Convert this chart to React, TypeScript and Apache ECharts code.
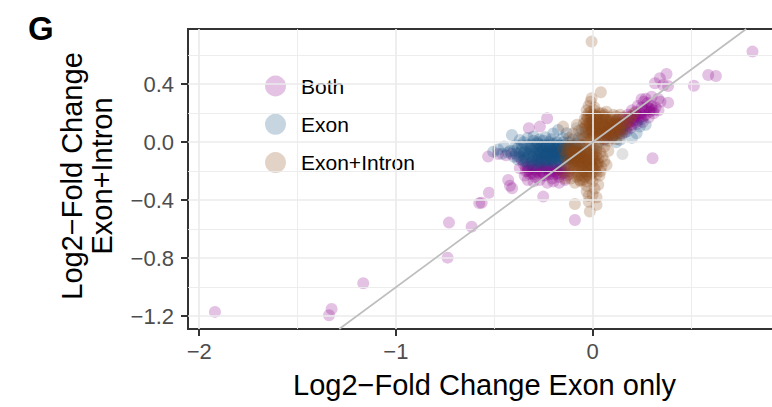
import React, { useEffect, useRef } from 'react';
import * as echarts from 'echarts';

// ---- axis ticks / labels ----
const xTicks = [-2, -1, 0];
const yTicks = [-1.2, -0.8, -0.4, 0, 0.4];
const xMinorGrid = [-1.5, -0.5, 0.5];
const yMinorGrid = [-1.0, -0.6, -0.2, 0.2, 0.6];
const XMIN = -2.057;
const XMAX = 0.958;
const YMIN = -1.288;
const YMAX = 0.781;

const legendNames = ['Both', 'Exon', 'Exon+Intron'];

// ---- data: [log2FC exon only, log2FC exon+intron] ----
const bothPoints: number[][] = [
  [-0.35,-0.15],[-0.34,-0.2],[-0.33,-0.17],[-0.32,-0.22],[-0.31,-0.14],[-0.3,-0.19],[-0.29,-0.24],[-0.28,-0.16],
  [-0.27,-0.21],[-0.26,-0.13],[-0.25,-0.18],[-0.24,-0.23],[-0.23,-0.15],[-0.22,-0.2],[-0.21,-0.17],[-0.2,-0.22],
  [-0.19,-0.14],[-0.18,-0.19],[-0.17,-0.24],[-0.16,-0.16],[-0.15,-0.21],[-0.14,-0.18],[-0.13,-0.23],[-0.12,-0.2],
  [-0.345,-0.23],[-0.325,-0.19],[-0.305,-0.16],[-0.285,-0.2],[-0.265,-0.17],[-0.245,-0.14],[-0.225,-0.18],
  [-0.205,-0.25],[-0.185,-0.22],[-0.165,-0.19],[-0.36,-0.12],[-0.37,-0.18],[-0.33,-0.26],[-0.3,-0.27],
  [-0.27,-0.26],[-0.23,-0.28],[-0.2,-0.27],[-0.17,-0.28],[-0.14,-0.26],[-0.25,-0.23],[-0.28,-0.12],[-0.21,-0.12],
  [-0.31,-0.21],[-0.24,-0.19],[-0.19,-0.18],[-0.16,-0.22],
  [-0.34,-0.17],[-0.32,-0.15],[-0.3,-0.22],[-0.28,-0.18],[-0.26,-0.2],[-0.24,-0.16],[-0.22,-0.22],[-0.2,-0.17],
  [-0.18,-0.21],[-0.16,-0.18],[-0.14,-0.21],[-0.27,-0.15],[-0.23,-0.18],[-0.19,-0.2],[-0.29,-0.19],[-0.33,-0.2],
  [-0.21,-0.2],[-0.25,-0.21],[-0.17,-0.16],[-0.31,-0.17],
  [-0.429,-0.26],[-0.409,-0.317],[-0.42,-0.3],[-0.251,-0.375],[-0.527,-0.348],[-0.564,-0.417],[-0.576,-0.42],
  [-0.615,-0.582],[-0.73,-0.554],[-0.737,-0.796],[-1.166,-0.972],[-1.327,-1.15],[-1.34,-1.193],[-1.92,-1.17],
  [-0.09,-0.536],[-0.531,-0.099],[-0.48,-0.081],[-0.412,-0.08],[-0.324,0.097],[-0.268,0.108],[-0.231,0.165],
  [-0.38,-0.1],[-0.44,-0.09],
  [0.06,0.02],[0.08,0.05],[0.1,0.04],[0.12,0.08],[0.14,0.06],[0.15,0.11],[0.17,0.09],[0.18,0.14],[0.2,0.12],
  [0.21,0.17],[0.23,0.15],[0.24,0.2],[0.26,0.18],[0.27,0.22],[0.29,0.21],[0.3,0.25],[0.32,0.24],[0.13,0.12],
  [0.16,0.15],[0.19,0.18],[0.22,0.21],[0.25,0.24],[0.28,0.27],[0.11,0.1],[0.09,0.08],[0.07,0.06],[0.165,0.07],
  [0.195,0.1],[0.225,0.125],[0.255,0.14],[0.285,0.17],[0.31,0.2],[0.335,0.22],[0.2,0.22],[0.23,0.25],[0.26,0.28],
  [0.18,0.19],[0.15,0.17],[0.12,0.15],[0.345,0.28],[0.3,0.314],[0.334,0.299],[0.249,0.297],[0.376,0.471],
  [0.342,0.441],[0.317,0.407],[0.359,0.395],[0.384,0.388],[0.384,0.273],[0.305,-0.11],[0.515,0.39],[0.588,0.464],
  [0.627,0.457],[0.813,0.625],[0.27,0.3],[0.22,0.19],[0.25,0.16],[0.18,0.11],[0.14,0.09],[0.1,0.06],
  [0.13,0.07],[0.15,0.09],[0.17,0.12],[0.19,0.14],[0.21,0.15],[0.23,0.18],[0.25,0.2],[0.27,0.19],[0.29,0.23],
  [0.31,0.22],[0.16,0.11],[0.2,0.16],[0.24,0.17],[0.28,0.24],[0.22,0.14],[0.26,0.22],[0.18,0.16],[0.3,0.23],
  [0.12,0.1],[0.14,0.13],
];

const exonPoints: number[][] = [
  [-0.31,-0.06],[-0.29,-0.03],[-0.28,-0.09],[-0.27,-0.05],[-0.26,-0.11],[-0.25,-0.02],[-0.24,-0.07],[-0.23,-0.12],
  [-0.22,-0.04],[-0.21,-0.08],[-0.2,-0.01],[-0.19,-0.1],[-0.18,-0.05],[-0.17,-0.08],[-0.16,-0.03],[-0.15,-0.11],
  [-0.14,-0.06],[-0.13,-0.09],[-0.12,-0.04],[-0.3,-0.1],[-0.28,-0.01],[-0.26,-0.08],[-0.245,-0.13],[-0.235,-0.03],
  [-0.225,-0.095],[-0.21,-0.135],[-0.205,-0.055],[-0.195,-0.02],[-0.185,-0.075],[-0.175,-0.115],[-0.165,-0.045],
  [-0.155,-0.085],[-0.145,-0.02],[-0.135,-0.07],[-0.125,-0.11],[-0.115,-0.055],[-0.105,-0.03],[-0.095,-0.07],
  [-0.32,-0.03],[-0.33,-0.08],[-0.34,-0.05],[-0.35,-0.1],[-0.36,-0.02],[-0.37,-0.07],[-0.305,-0.125],[-0.285,-0.145],
  [-0.265,-0.02],[-0.255,-0.055],[-0.24,-0.1],[-0.22,-0.015],[-0.2,-0.115],[-0.19,-0.04],[-0.18,-0.15],[-0.17,-0.02],
  [-0.16,-0.13],[-0.15,-0.06],[-0.14,-0.1],[-0.13,-0.035],[-0.12,-0.08],[-0.11,-0.12],[-0.27,-0.07],[-0.23,-0.06],
  [-0.21,-0.1],[-0.19,-0.075],[-0.25,-0.09],[-0.29,-0.075],[-0.31,-0.015],[-0.2,-0.04],[-0.16,-0.07],[-0.24,-0.04],
  [-0.36,-0.05],[-0.35,-0.08],[-0.34,-0.11],[-0.33,-0.02],[-0.32,-0.07],[-0.31,-0.1],[-0.3,-0.04],[-0.29,-0.12],
  [-0.28,-0.05],[-0.27,-0.1],[-0.26,-0.03],[-0.25,-0.06],[-0.24,-0.12],[-0.23,-0.08],[-0.22,-0.06],[-0.21,-0.03],
  [-0.2,-0.09],[-0.19,-0.12],[-0.18,-0.03],[-0.17,-0.1],[-0.16,-0.05],[-0.15,-0.08],[-0.14,-0.04],[-0.13,-0.12],
  [-0.12,-0.06],[-0.11,-0.09],[-0.1,-0.05],[-0.09,-0.03],[-0.08,-0.06],[-0.07,-0.08],
  [-0.345,-0.065],[-0.325,-0.095],[-0.315,-0.045],[-0.295,-0.085],[-0.275,-0.115],[-0.265,-0.065],[-0.255,-0.035],
  [-0.235,-0.085],[-0.215,-0.115],[-0.205,-0.075],[-0.195,-0.055],[-0.185,-0.095],[-0.175,-0.065],[-0.165,-0.025],
  [-0.155,-0.105],[-0.145,-0.075],[-0.135,-0.045],[-0.125,-0.085],[-0.115,-0.025],[-0.105,-0.1],
  [-0.38,-0.04],[-0.4,-0.06],[-0.43,-0.07],[-0.46,-0.08],[-0.39,-0.08],[-0.37,-0.1],[-0.35,-0.13],[-0.33,-0.15],
  [-0.28,-0.13],[-0.26,-0.14],[-0.22,-0.13],[-0.19,-0.14],[-0.28,0.0],[-0.25,0.01],[-0.21,0.02],[-0.18,0.0],
  [-0.15,0.0],[-0.3,0.01],[-0.35,0.0],[-0.23,-0.025],
  [-0.48,-0.05],[-0.505,-0.065],[-0.45,-0.03],[-0.42,-0.06],[-0.41,0.05],[-0.37,0.016],[-0.39,-0.02],[-0.4,-0.1],
  [-0.38,-0.12],[-0.33,0.03],[-0.3,0.04],[-0.27,0.02],[-0.24,0.035],[-0.2,0.06],[-0.175,0.085],[-0.132,0.062],
  [-0.15,0.03],[-0.1,0.02],[-0.08,-0.01],[-0.07,0.03],[-0.06,-0.04],[-0.05,-0.02],[-0.09,-0.13],[-0.14,-0.16],
  [-0.24,-0.17],[-0.3,-0.16],[-0.34,-0.13],[-0.22,0.0],[-0.12,0.0],[0.105,0.039],[0.139,0.016],[0.173,0.073],
  [0.224,0.062],[0.24,0.108],[0.2,0.03],[0.15,0.06],[0.12,0.0],[0.27,0.12],[0.06,0.01],[0.08,0.04],
];

const exonIntronPoints: number[][] = [
  [-0.05,0.05],[-0.04,0.1],[-0.03,0.15],[-0.02,0.2],[-0.01,0.03],[0.0,0.08],[0.01,0.13],[0.02,0.18],[0.03,0.05],
  [0.04,0.1],[0.05,0.15],[0.06,0.02],[0.07,0.07],[0.08,0.12],[0.09,0.17],[0.1,0.04],[0.11,0.09],[0.12,0.14],
  [0.13,0.06],[0.14,0.11],[0.15,0.08],[0.16,0.13],[-0.045,0.13],[-0.035,0.07],[-0.025,0.02],[-0.015,0.12],
  [-0.005,0.17],[0.005,0.05],[0.015,0.1],[0.025,0.15],[0.035,0.2],[0.045,0.07],[0.055,0.12],[0.065,0.17],
  [0.075,0.04],[0.085,0.09],[0.095,0.14],[0.105,0.19],[0.115,0.06],[0.125,0.11],[0.135,0.16],[0.145,0.05],
  [-0.06,0.02],[-0.055,0.09],[-0.02,0.06],[0.0,0.11],[0.02,0.16],[0.04,0.03],[0.06,0.08],[0.08,0.14],[0.1,0.1],
  [0.12,0.18],[-0.03,0.18],[-0.01,0.21],[0.01,0.22],[0.05,0.2],[0.07,0.21],[0.03,0.12],[-0.04,0.04],[0.02,0.07],
  [0.06,0.11],[0.09,0.06],[0.11,0.13],[0.04,0.16],[-0.01,0.14],[0.0,0.01],[0.17,0.1],[0.18,0.14],[0.19,0.16],
  [0.2,0.18],[0.21,0.2],[0.16,0.17],[0.14,0.19],[-0.02,0.25],[-0.01,0.28],[-0.005,0.303],[0.042,0.345],
  [-0.005,0.694],[0.01,0.24],[-0.03,0.22],[-0.07,0.08],[-0.08,0.12],[-0.1,0.06],[-0.15,0.108],[-0.12,0.03],
  [0.03,0.0],[0.08,0.01],[0.12,0.02],
  [-0.045,0.03],[-0.035,0.11],[-0.025,0.17],[-0.015,0.05],[-0.005,0.09],[0.005,0.15],[0.015,0.19],[0.025,0.04],
  [0.035,0.08],[0.045,0.13],[0.055,0.18],[0.065,0.05],[0.075,0.1],[0.085,0.15],[0.095,0.03],[0.105,0.08],
  [0.115,0.12],[0.125,0.16],[0.135,0.09],[0.145,0.13],
  [-0.04,0.16],[-0.03,0.09],[-0.02,0.13],[-0.01,0.07],[0.0,0.14],[0.01,0.04],[0.02,0.11],[0.03,0.17],[0.04,0.07],
  [0.05,0.1],[0.06,0.16],[0.07,0.13],[0.08,0.06],[0.09,0.11],[0.1,0.15],[0.11,0.05],[0.12,0.1],[0.13,0.13],
  [0.0,0.19],[0.06,0.19],[-0.02,0.09],[0.02,0.13],[0.04,0.05],[0.08,0.09],[0.1,0.12],[-0.01,0.17],[0.03,0.09],
  [0.07,0.15],[0.05,0.06],[0.01,0.08],
  [-0.12,-0.03],[-0.1,-0.06],[-0.08,-0.09],[-0.06,-0.12],[-0.04,-0.15],[-0.02,-0.18],[0.0,-0.21],[0.02,-0.04],
  [0.04,-0.07],[-0.11,-0.1],[-0.09,-0.13],[-0.07,-0.16],[-0.05,-0.19],[-0.03,-0.22],[-0.01,-0.25],[0.01,-0.08],
  [0.03,-0.11],[-0.13,-0.07],[-0.115,-0.14],[-0.095,-0.17],[-0.075,-0.2],[-0.055,-0.23],[-0.035,-0.05],
  [-0.015,-0.08],[0.005,-0.11],[0.025,-0.14],[0.045,-0.17],[-0.14,-0.1],[-0.12,-0.18],[-0.1,-0.21],[-0.08,-0.24],
  [-0.06,-0.27],[-0.04,-0.03],[-0.02,-0.1],[0.0,-0.13],[0.02,-0.16],[0.04,-0.2],[-0.105,-0.02],[-0.085,-0.05],
  [-0.065,-0.08],[-0.045,-0.11],[-0.025,-0.14],[-0.005,-0.17],[0.015,-0.2],[0.035,-0.23],[-0.15,-0.05],
  [-0.13,-0.15],[-0.11,-0.25],[-0.09,-0.28],[-0.07,-0.05],[-0.05,-0.07],[-0.03,-0.12],[-0.01,-0.15],[0.01,-0.18],
  [0.03,-0.02],[0.05,-0.1],[0.06,-0.13],[-0.06,-0.02],[-0.08,-0.14],[-0.06,-0.17],[-0.04,-0.2],[-0.02,-0.23],
  [0.0,-0.27],[-0.1,-0.11],[-0.09,-0.02],[-0.07,-0.11],[-0.05,-0.14],[-0.03,-0.17],[0.0,-0.06],[0.02,-0.09],
  [-0.02,-0.02],[-0.04,-0.08],
  [-0.11,-0.05],[-0.1,-0.08],[-0.09,-0.11],[-0.08,-0.04],[-0.07,-0.13],[-0.06,-0.07],[-0.05,-0.1],[-0.04,-0.13],
  [-0.03,-0.07],[-0.02,-0.12],[-0.01,-0.05],[0.0,-0.09],[0.01,-0.13],[0.02,-0.06],[0.03,-0.15],[-0.12,-0.11],
  [-0.1,-0.15],[-0.08,-0.18],[-0.06,-0.21],[-0.04,-0.24],[-0.02,-0.2],[0.0,-0.17],[0.02,-0.22],[-0.07,-0.23],
  [-0.05,-0.26],[-0.03,-0.27],[-0.01,-0.22],[-0.09,-0.2],[-0.11,-0.18],[-0.12,-0.22],
  [-0.085,-0.1],[-0.065,-0.14],[-0.045,-0.17],[-0.025,-0.06],[-0.005,-0.12],[0.015,-0.15],[-0.095,-0.07],
  [-0.075,-0.12],[-0.055,-0.16],[-0.035,-0.1],[-0.015,-0.14],[0.005,-0.04],[-0.08,-0.07],[-0.06,-0.1],[-0.04,-0.05],
  [-0.02,-0.16],[0.0,-0.02],[-0.1,-0.13],[-0.13,-0.04],[-0.03,-0.2],
  [-0.065,-0.26],[-0.03,-0.34],[0.029,-0.294],[0.071,-0.157],[-0.09,-0.426],[-0.014,-0.478],[0.02,-0.432],
  [-0.019,-0.41],[0.0,-0.36],[0.02,-0.38],[-0.03,-0.3],[0.01,-0.32],[-0.02,-0.37],[-0.16,-0.2],[-0.14,-0.25],
  [0.08,-0.06],[0.06,-0.03],
];

const otherPoints: number[][] = [
  [0.152,-0.081],[-0.081,0.097],[-0.06,0.06],[0.02,-0.02],
];

const FONT = "'Liberation Sans', Arial, Helvetica, sans-serif";
const GRID_MAJOR = '#ebebeb';

const fmtX = (v: number) => (v < 0 ? '\u2212' + Math.abs(v) : String(v));
const fmtY = (v: number) => (v < -1e-9 ? '\u2212' : '') + Math.abs(v).toFixed(1);

export default function App() {
  const ref = useRef<HTMLDivElement>(null);
  useEffect(() => {
    if (!ref.current) return;
    const chart = echarts.init(ref.current, null, { renderer: 'svg' });
    const gridLines: any[] = [
      ...xTicks.map((v) => ({ xAxis: v, lineStyle: { color: GRID_MAJOR, width: 1.7, type: 'solid' } })),
      ...xMinorGrid.map((v) => ({ xAxis: v, lineStyle: { color: GRID_MAJOR, width: 0.9, type: 'solid' } })),
      ...yTicks.map((v) => ({ yAxis: v, lineStyle: { color: GRID_MAJOR, width: 1.7, type: 'solid' } })),
      ...yMinorGrid.map((v) => ({ yAxis: v, lineStyle: { color: GRID_MAJOR, width: 0.9, type: 'solid' } })),
    ];
    const pointSeries = (name: string, data: number[][], color: string) => ({
      name,
      type: 'scatter',
      data,
      symbol: 'circle',
      symbolSize: 12,
      z: 2,
      itemStyle: { color, borderWidth: 0 },
      silent: true,
    });
    chart.setOption({
      animation: false,
      grid: {
        left: 188,
        top: 29,
        width: 593,
        height: 300,
        containLabel: false,
        outerBoundsMode: 'none',
        show: true,
        borderColor: '#333333',
        borderWidth: 2,
        backgroundColor: '#ffffff',
      },
      xAxis: {
        type: 'value',
        min: XMIN,
        max: XMAX,
        axisLine: { show: false, onZero: false },
        axisTick: { show: true, customValues: xTicks, length: 7, lineStyle: { color: '#333333', width: 2 } },
        axisLabel: {
          customValues: xTicks,
          formatter: fmtX,
          fontSize: 22,
          color: '#4d4d4d',
          fontFamily: FONT,
          margin: 11,
        },
        splitLine: { show: false },
      },
      yAxis: {
        type: 'value',
        min: YMIN,
        max: YMAX,
        axisLine: { show: false, onZero: false },
        axisTick: { show: true, customValues: yTicks, length: 7, lineStyle: { color: '#333333', width: 2 } },
        axisLabel: {
          customValues: yTicks,
          formatter: fmtY,
          fontSize: 22,
          color: '#4d4d4d',
          fontFamily: FONT,
          margin: 14,
        },
        splitLine: { show: false },
      },
      legend: {
        data: legendNames,
        orient: 'vertical',
        left: 265,
        top: 75.5,
        padding: 0,
        itemWidth: 21,
        itemHeight: 21,
        itemGap: 17.3,
        icon: 'circle',
        selectedMode: false,
        textStyle: { fontSize: 21, color: '#000000', fontFamily: FONT, padding: [0, 0, 0, 10] },
      },
      graphic: [
        { type: 'rect', z: 1, silent: true, shape: { x: 256, y: 67, width: 40, height: 115 }, style: { fill: '#ffffff' } },
        {
          type: 'text', z: 10, x: 28, y: 28,
          style: { text: 'G', font: `bold 33px ${FONT}`, fill: '#000000', textAlign: 'left', textVerticalAlign: 'middle' },
        },
        {
          type: 'text', z: 10, x: 87, y: 176, rotation: Math.PI / 2,
          style: {
            text: 'Log2\u2212Fold Change\nExon+Intron', font: `29px ${FONT}`, fill: '#000000',
            textAlign: 'center', textVerticalAlign: 'middle', lineHeight: 30,
          },
        },
        {
          type: 'text', z: 10, x: 484.5, y: 384.5,
          style: { text: 'Log2\u2212Fold Change Exon only', font: `29px ${FONT}`, fill: '#000000', textAlign: 'center', textVerticalAlign: 'middle' },
        },
      ],
      series: [
        {
          name: '_grid',
          type: 'line',
          data: [],
          z: 0,
          silent: true,
          markLine: { silent: true, symbol: ['none', 'none'], label: { show: false }, data: gridLines, animation: false },
        },
        pointSeries('Both', bothPoints, 'rgba(139,0,139,0.3)'),
        pointSeries('Exon', exonPoints, 'rgba(19,79,128,0.3)'),
        pointSeries('Exon+Intron', exonIntronPoints, 'rgba(139,69,19,0.3)'),
        pointSeries('_other', otherPoints, 'rgba(128,128,128,0.3)'),
        {
          name: '_diag',
          type: 'line',
          data: [],
          z: 3,
          silent: true,
          markLine: {
            silent: true,
            symbol: ['none', 'none'],
            label: { show: false },
            lineStyle: { color: '#bebebe', width: 1.7, type: 'solid' },
            data: [[{ coord: [YMIN, YMIN] }, { coord: [YMAX, YMAX] }]],
            animation: false,
          },
        },
      ],
    });
    return () => chart.dispose();
  }, []);
  return <div ref={ref} style={{ position: 'absolute', left: 0, top: 0, width: 772, height: 407 }} />;
}
